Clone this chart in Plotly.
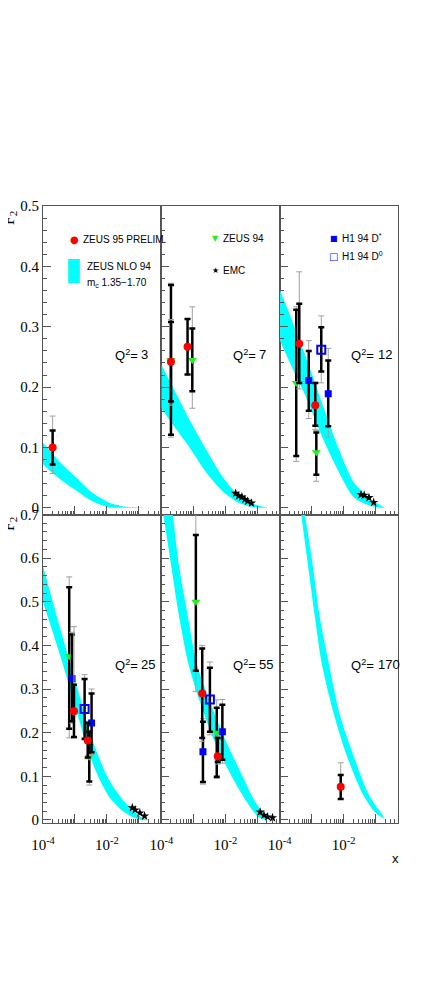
import plotly.graph_objects as go
from plotly.subplots import make_subplots

# panels: 1..3 top row, 4..6 bottom row
q2_values = [3, 7, 12, 25, 55, 170]

# ZEUS 95 preliminary (red circles)
z95_panel = [1, 2, 2, 3, 3, 4, 4, 5, 5, 6]
z95_x = [2.0e-4, 2.0e-4, 6.6e-4, 4.1e-4, 1.3e-3, 9.3e-4, 2.5e-3, 1.9e-3, 5.8e-3, 8.1e-3]
z95_y = [0.100, 0.242, 0.267, 0.272, 0.170, 0.249, 0.182, 0.290, 0.146, 0.076]
z95_stat_lo = [0.072, 0.176, 0.221, 0.207, 0.136, 0.190, 0.143, 0.188, 0.133, 0.048]
z95_stat_hi = [0.128, 0.308, 0.313, 0.338, 0.207, 0.310, 0.223, 0.393, 0.188, 0.103]
z95_tot_lo = [0.057, 0.170, 0.221, 0.197, 0.130, 0.188, 0.140, 0.180, 0.128, 0.048]
z95_tot_hi = [0.152, 0.312, 0.313, 0.391, 0.208, 0.443, 0.223, 0.400, 0.192, 0.131]

# ZEUS 94 (green triangles)
z94_panel = [2, 2, 3, 3, 4, 4, 5, 5]
z94_x = [2.0e-4, 9.3e-4, 3.3e-4, 1.4e-3, 6.6e-4, 2.8e-3, 1.2e-3, 5.4e-3]
z94_y = [0.245, 0.245, 0.207, 0.092, 0.375, 0.145, 0.500, 0.200]
z94_stat_lo = [0.121, 0.193, 0.086, 0.055, 0.209, 0.088, 0.342, 0.099]
z94_stat_hi = [0.369, 0.297, 0.328, 0.125, 0.533, 0.202, 0.653, 0.257]
z94_tot_lo = [0.117, 0.165, 0.077, 0.044, 0.188, 0.080, 0.294, 0.095]
z94_tot_hi = [0.372, 0.333, 0.333, 0.128, 0.557, 0.205, 0.720, 0.275]

# H1 94 D* (filled blue squares)
dst_panel = [3, 3, 4, 4, 5, 5]
dst_x = [8.1e-4, 3.3e-3, 8.1e-4, 3.3e-3, 2.0e-3, 8.1e-3]
dst_y = [0.211, 0.189, 0.324, 0.222, 0.156, 0.202]
dst_stat_lo = [0.161, 0.135, 0.226, 0.155, 0.087, 0.138]
dst_stat_hi = [0.260, 0.244, 0.425, 0.290, 0.225, 0.264]
dst_tot_lo = [0.148, 0.117, 0.222, 0.150, 0.082, 0.130]
dst_tot_hi = [0.277, 0.264, 0.430, 0.300, 0.232, 0.276]

# H1 94 D0 (open blue squares)
d0_panel = [3, 4, 5]
d0_x = [2.0e-3, 2.0e-3, 3.3e-3]
d0_y = [0.262, 0.254, 0.276]
d0_stat_lo = [0.226, 0.186, 0.202]
d0_stat_hi = [0.299, 0.323, 0.349]
d0_tot_lo = [0.207, 0.183, 0.195]
d0_tot_hi = [0.318, 0.333, 0.362]

# EMC (stars)
emc_panel = [2, 2, 2, 2, 2, 2, 3, 3, 3, 3, 4, 4, 4, 4, 5, 5, 5, 5]
emc_x = [2.1e-2, 2.6e-2, 3.3e-2, 4.1e-2, 5.0e-2, 6.6e-2,
         3.5e-2, 4.4e-2, 6.2e-2, 8.7e-2,
         6.2e-2, 7.6e-2, 0.107, 0.15,
         0.123, 0.162, 0.21, 0.30]
emc_y = [0.024, 0.020, 0.018, 0.014, 0.011, 0.008,
         0.022, 0.021, 0.017, 0.009,
         0.028, 0.023, 0.016, 0.009,
         0.018, 0.011, 0.007, 0.005]

# ZEUS NLO 94 band (upper and lower edges per panel)
band_hi_x = {
    1: [1e-4, 3.5e-4, 1.15e-3, 3.5e-3, 1.15e-2, 3.8e-2, 0.23],
    2: [1e-4, 2.5e-4, 7.6e-4, 2.5e-3, 8.1e-3, 2.5e-2, 8.1e-2, 0.23],
    3: [1e-4, 2.1e-4, 6.6e-4, 2.1e-3, 7.1e-3, 2.1e-2, 7.1e-2, 0.20],
    4: [1e-4, 3.5e-4, 1.15e-3, 3.5e-3, 1.15e-2, 3.8e-2, 0.115, 0.186],
    5: [2.3e-4, 3.5e-4, 6.6e-4, 1.3e-3, 3.3e-3, 1.07e-2, 3.3e-2, 8.7e-2, 0.174, 0.20],
    6: [6.2e-4, 1.07e-3, 1.74e-3, 3.5e-3, 7.6e-3, 2.0e-2, 6.2e-2, 0.162, 0.20],
}
band_hi_y = {
    1: [0.108, 0.075, 0.049, 0.025, 0.009, 0.002, 0.0],
    2: [0.237, 0.196, 0.146, 0.097, 0.052, 0.022, 0.006, 0.0],
    3: [0.362, 0.319, 0.250, 0.174, 0.097, 0.042, 0.014, 0.0],
    4: [0.582, 0.437, 0.306, 0.184, 0.092, 0.039, 0.007, 0.0],
    5: [0.70, 0.586, 0.471, 0.356, 0.271, 0.179, 0.103, 0.041, 0.011, 0.0],
    6: [0.70, 0.586, 0.471, 0.356, 0.241, 0.149, 0.057, 0.012, 0.003],
}
band_lo_x = {
    1: [1e-4, 3.5e-4, 1.15e-3, 3.5e-3, 1.15e-2, 3.8e-2, 0.23],
    2: [1e-4, 2.5e-4, 7.6e-4, 2.5e-3, 8.1e-3, 2.5e-2, 8.1e-2, 0.23],
    3: [1e-4, 2.1e-4, 6.6e-4, 2.1e-3, 7.1e-3, 2.1e-2, 7.1e-2, 0.20],
    4: [1e-4, 3.5e-4, 1.15e-3, 3.5e-3, 1.15e-2, 3.8e-2, 0.115, 0.186],
    5: [1.15e-4, 2.0e-4, 3.5e-4, 7.1e-4, 1.6e-3, 4.7e-3, 1.5e-2, 4.7e-2, 0.107, 0.20],
    6: [4.7e-4, 7.6e-4, 1.23e-3, 2.1e-3, 5.0e-3, 1.23e-2, 4.1e-2, 0.10, 0.174],
}
band_lo_y = {
    1: [0.072, 0.047, 0.028, 0.011, 0.001, 0.0, 0.0],
    2: [0.165, 0.135, 0.100, 0.059, 0.028, 0.009, 0.001, 0.0],
    3: [0.278, 0.240, 0.184, 0.118, 0.059, 0.017, 0.003, 0.0],
    4: [0.499, 0.375, 0.246, 0.131, 0.054, 0.016, 0.0, 0.0],
    5: [0.70, 0.586, 0.471, 0.356, 0.271, 0.179, 0.103, 0.041, 0.007, 0.0],
    6: [0.70, 0.586, 0.471, 0.356, 0.241, 0.149, 0.057, 0.016, 0.005],
}

CYAN = "#00ffff"
FRAME = "#555555"
SANS = "Liberation Sans, Arial, sans-serif"
SERIF = "Liberation Serif, Times New Roman, serif"


def rc(p):
    return (1 if p <= 3 else 2), (p - 1) % 3 + 1


fig = make_subplots(rows=2, cols=3, horizontal_spacing=0, vertical_spacing=0)

# band
for p in range(1, 7):
    r, c = rc(p)
    fig.add_trace(go.Scatter(
        x=band_lo_x[p], y=band_lo_y[p], mode="lines",
        line=dict(color=CYAN, width=0, shape="spline", smoothing=0.8),
        showlegend=False, hoverinfo="skip"
    ), row=r, col=c)
    fig.add_trace(go.Scatter(
        x=band_hi_x[p], y=band_hi_y[p], mode="lines",
        line=dict(color=CYAN, width=0, shape="spline", smoothing=0.8),
        fill="tonexty", fillcolor=CYAN,
        showlegend=False, hoverinfo="skip"
    ), row=r, col=c)


def add_series(panels, xs, ys, slo, shi, tlo, thi, marker):
    for p in range(1, 7):
        idx = [i for i, q in enumerate(panels) if q == p]
        if not idx:
            continue
        r, c = rc(p)
        x = [xs[i] for i in idx]
        y = [ys[i] for i in idx]
        # total errors (thin grey)
        fig.add_trace(go.Scatter(
            x=x, y=y, mode="markers",
            marker=dict(size=1, color="rgba(0,0,0,0)"),
            error_y=dict(type="data", symmetric=False,
                         array=[thi[i] - ys[i] for i in idx],
                         arrayminus=[ys[i] - tlo[i] for i in idx],
                         color="#a0a0a0", thickness=1, width=3),
            showlegend=False, hoverinfo="skip"
        ), row=r, col=c)
        # statistical errors (thick black) + markers
        fig.add_trace(go.Scatter(
            x=x, y=y, mode="markers", marker=marker,
            error_y=dict(type="data", symmetric=False,
                         array=[shi[i] - ys[i] for i in idx],
                         arrayminus=[ys[i] - slo[i] for i in idx],
                         color="black", thickness=2.5, width=3),
            showlegend=False
        ), row=r, col=c)


add_series(z94_panel, z94_x, z94_y, z94_stat_lo, z94_stat_hi, z94_tot_lo, z94_tot_hi,
           dict(symbol="triangle-down", size=8, color="#22ee22"))
add_series(dst_panel, dst_x, dst_y, dst_stat_lo, dst_stat_hi, dst_tot_lo, dst_tot_hi,
           dict(symbol="square", size=7, color="#0000ff"))
add_series(d0_panel, d0_x, d0_y, d0_stat_lo, d0_stat_hi, d0_tot_lo, d0_tot_hi,
           dict(symbol="square-open", size=8, color="#0000ff", line=dict(width=2, color="#0000ff")))
add_series(z95_panel, z95_x, z95_y, z95_stat_lo, z95_stat_hi, z95_tot_lo, z95_tot_hi,
           dict(symbol="circle", size=8, color="#ff0000"))

for p in range(1, 7):
    idx = [i for i, q in enumerate(emc_panel) if q == p]
    if not idx:
        continue
    r, c = rc(p)
    fig.add_trace(go.Scatter(
        x=[emc_x[i] for i in idx], y=[emc_y[i] for i in idx], mode="markers",
        marker=dict(symbol="star", size=7, color="black"),
        showlegend=False
    ), row=r, col=c)

# axes
minor_x = [m * 10 ** e for e in range(-4, 0) for m in range(2, 10)]
for p in range(1, 7):
    r, c = rc(p)
    fig.update_xaxes(
        type="log", range=[-4, -0.3],
        tickvals=[1e-4, 1e-3, 1e-2, 1e-1],
        ticktext=["10<sup>-4</sup>", "", "10<sup>-2</sup>", ""],
        showticklabels=(r == 2), ticks="inside", ticklen=9, tickcolor=FRAME,
        minor=dict(tickvals=minor_x, ticks="inside", ticklen=4, tickcolor=FRAME),
        showline=True, linecolor=FRAME, linewidth=1, mirror=True,
        showgrid=False, zeroline=False, ticklabelstandoff=8,
        tickfont=dict(family=SERIF, size=15, color="black"),
        row=r, col=c)
    if r == 1:
        yr, yt = [-0.011, 0.5], [0, 0.1, 0.2, 0.3, 0.4, 0.5]
        ytt = ["0", "0.1", "0.2", "0.3", "0.4", "0.5"]
    else:
        yr, yt = [-0.007, 0.7], [0, 0.1, 0.2, 0.3, 0.4, 0.5, 0.6, 0.7]
        ytt = ["0", "0.1", "0.2", "0.3", "0.4", "0.5", "0.6", "0.7"]
    fig.update_yaxes(
        range=yr, tickvals=yt, ticktext=ytt,
        showticklabels=(c == 1), ticks="inside", ticklen=8, tickcolor=FRAME,
        minor=dict(dtick=0.02, tick0=0, ticks="inside", ticklen=4, tickcolor=FRAME),
        showline=True, linecolor=FRAME, linewidth=1, mirror=True,
        showgrid=False, zeroline=False,
        tickfont=dict(family=SERIF, size=15, color="black"),
        row=r, col=c)

# Q^2 labels
for p in range(1, 7):
    r, c = rc(p)
    xr = "x domain" if p == 1 else "x%d domain" % p
    yr_ = "y domain" if p == 1 else "y%d domain" % p
    ypos = 0.518 if r == 1 else 0.513
    fig.add_annotation(x=0.59, y=ypos, xref=xr, yref=yr_, text="Q<sup>2</sup>=",
                       showarrow=False, xanchor="left", yanchor="middle",
                       font=dict(family=SANS, size=13, color="black"))
    fig.add_annotation(x=0.81, y=ypos, xref=xr, yref=yr_, text=str(q2_values[p - 1]),
                       showarrow=False, xanchor="left", yanchor="middle",
                       font=dict(family=SANS, size=13, color="black"))


# legend entries drawn as text, positions in window pixels converted to paper
def px(xp):
    return (xp - 32) / 366.0


def py(yp):
    return (823 - yp) / 617.0


leg = [
    (64, 240, "\u25CF", "#ff0000", 10, 71, "ZEUS 95 PRELIM."),
    (210, 238, "\u25BC", "#22ee22", 8, 216, "ZEUS 94"),
    (210, 270, "\u2605", "black", 8, 216, "EMC"),
    (332, 238, "\u25A0", "#0000ff", 8, 338, "H1 94 D<sup>*</sup>"),
    (332, 256, "\u25A1", "#0000ff", 10, 338, "H1 94 D<sup>0</sup>"),
]
for mx, my, sym, col, sz, tx, txt in leg:
    fig.add_annotation(x=px(mx), y=py(my), xref="paper", yref="paper", text=sym,
                       showarrow=False, xanchor="center", yanchor="middle",
                       font=dict(family="DejaVu Sans", size=sz, color=col))
    fig.add_annotation(x=px(tx), y=py(my), xref="paper", yref="paper", text=txt,
                       showarrow=False, xanchor="left", yanchor="middle",
                       font=dict(family=SANS, size=10, color="black"))

fig.add_shape(type="rect", xref="paper", yref="paper",
              x0=px(58), x1=px(70), y0=py(283), y1=py(259),
              fillcolor=CYAN, line=dict(width=0))
fig.add_annotation(x=px(75), y=py(266), xref="paper", yref="paper", text="ZEUS NLO 94",
                   showarrow=False, xanchor="left", yanchor="middle",
                   font=dict(family=SANS, size=10, color="black"))
fig.add_annotation(x=px(75), y=py(283), xref="paper", yref="paper",
                   text="m<sub>c</sub> 1.35\u22121.70",
                   showarrow=False, xanchor="left", yanchor="middle",
                   font=dict(family=SANS, size=10, color="black"))

# axis titles
fig.add_annotation(x=px(395), y=py(858), xref="paper", yref="paper", text="x",
                   showarrow=False, xanchor="center", yanchor="middle",
                   font=dict(family=SANS, size=13, color="black"))
for ty in (218, 524):
    fig.add_annotation(x=px(-3), y=py(ty), xref="paper", yref="paper",
                       text="F<sub>2</sub>", textangle=-90,
                       showarrow=False, xanchor="center", yanchor="middle",
                       font=dict(family=SERIF, size=16, color="black"))

# page body has an 8px margin; figure is sized so the plot frame lands on the
# reference pixels (frame 32..398 wide, 206..823 tall)
fig.update_layout(
    width=427, height=988,
    margin=dict(l=24, r=37, t=198, b=173),
    plot_bgcolor="white", paper_bgcolor="white",
    showlegend=False,
)

fig.write_html("out.html")
